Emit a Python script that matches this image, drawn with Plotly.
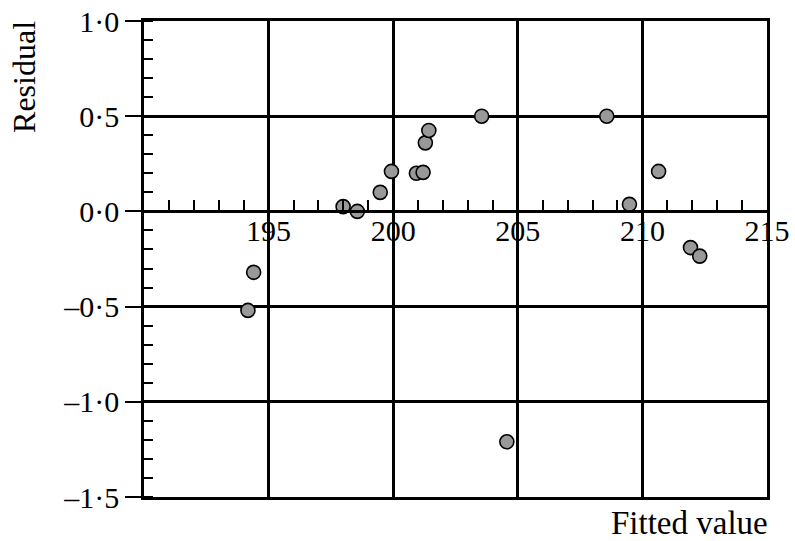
import plotly.graph_objects as go

# Data
fitted = [194.17, 194.40, 197.99, 198.56, 199.48, 199.93, 200.93, 201.20, 201.29,
          201.43, 203.55, 204.56, 208.57, 209.48, 210.65, 211.93, 212.30]
residual = [-0.52, -0.32, 0.025, 0.0, 0.10, 0.21, 0.20, 0.205, 0.36,
            0.425, 0.50, -1.21, 0.50, 0.037, 0.21, -0.19, -0.235]

x_tick_vals = [195, 200, 205, 210, 215]
x_tick_text = ["195", "200", "205", "210", "215"]
y_tick_vals = [-1.5, -1.0, -0.5, 0.0, 0.5, 1.0]
y_tick_text = ["–1·5", "–1·0", "–0·5", "0·0", "0·5", "1·0"]

FONT = "Liberation Serif"
LW = 2.5

fig = go.Figure()
# empty trace so the base subplot (grid + frame) is drawn
fig.add_trace(go.Scatter(x=[], y=[], xaxis="x", yaxis="y", showlegend=False))
fig.add_trace(go.Scatter(
    x=fitted, y=residual, mode="markers", xaxis="x2", yaxis="y",
    marker=dict(size=14, color="#999999", line=dict(color="black", width=1.6)),
    showlegend=False, hoverinfo="skip",
))

fig.update_layout(
    template="none",
    width=795, height=541,
    margin=dict(l=144, r=28, t=21, b=44, autoexpand=False),
    paper_bgcolor="white", plot_bgcolor="white",
    font=dict(family=FONT, size=30, color="black"),
    xaxis=dict(
        range=[190, 215], showticklabels=False, ticks="", automargin=False,
        tickmode="array", tickvals=[195, 200, 205, 210],
        showgrid=True, gridcolor="black", gridwidth=LW,
        showline=True, linecolor="black", linewidth=LW, mirror=True, zeroline=False,
    ),
    xaxis2=dict(
        range=[190, 215], overlaying="x", anchor="free", position=0.6, side="bottom",
        automargin=False,
        tickmode="array", tickvals=x_tick_vals, ticktext=x_tick_text,
        ticks="inside", ticklen=11, tickwidth=2, tickcolor="black",
        minor=dict(ticks="inside", dtick=1, tick0=190, ticklen=11, tickwidth=2, tickcolor="black"),
        showgrid=False, zeroline=False,
        showline=True, linecolor="black", linewidth=LW,
        ticklabelstandoff=-8, ticklabeloverflow="allow",
        tickfont=dict(family=FONT, size=30, color="black"),
    ),
    yaxis=dict(
        range=[-1.5, 1.0], automargin=False,
        tickmode="array", tickvals=y_tick_vals, ticktext=y_tick_text,
        ticks="outside", ticklen=16, tickwidth=2, tickcolor="black",
        minor=dict(ticks="inside", dtick=0.1, tick0=0, ticklen=9, tickwidth=2, tickcolor="black"),
        showgrid=True, gridcolor="black", gridwidth=LW, zeroline=False,
        showline=True, linecolor="black", linewidth=LW, mirror=True,
        ticklabeloverflow="allow",
        tickfont=dict(family=FONT, size=30, color="black"),
    ),
    annotations=[
        dict(text="Residual", xref="paper", yref="paper", x=-0.193, y=0.882,
             xanchor="center", yanchor="middle", textangle=-90, showarrow=False,
             font=dict(family=FONT, size=32, color="black")),
        dict(text="Fitted value", xref="paper", yref="paper", x=1.005, y=-0.054,
             xanchor="right", yanchor="middle", showarrow=False,
             font=dict(family=FONT, size=33, color="black")),
    ],
)

fig.write_html("out.html", config={"displayModeBar": False},
               post_script="document.body.style.margin='0';")
